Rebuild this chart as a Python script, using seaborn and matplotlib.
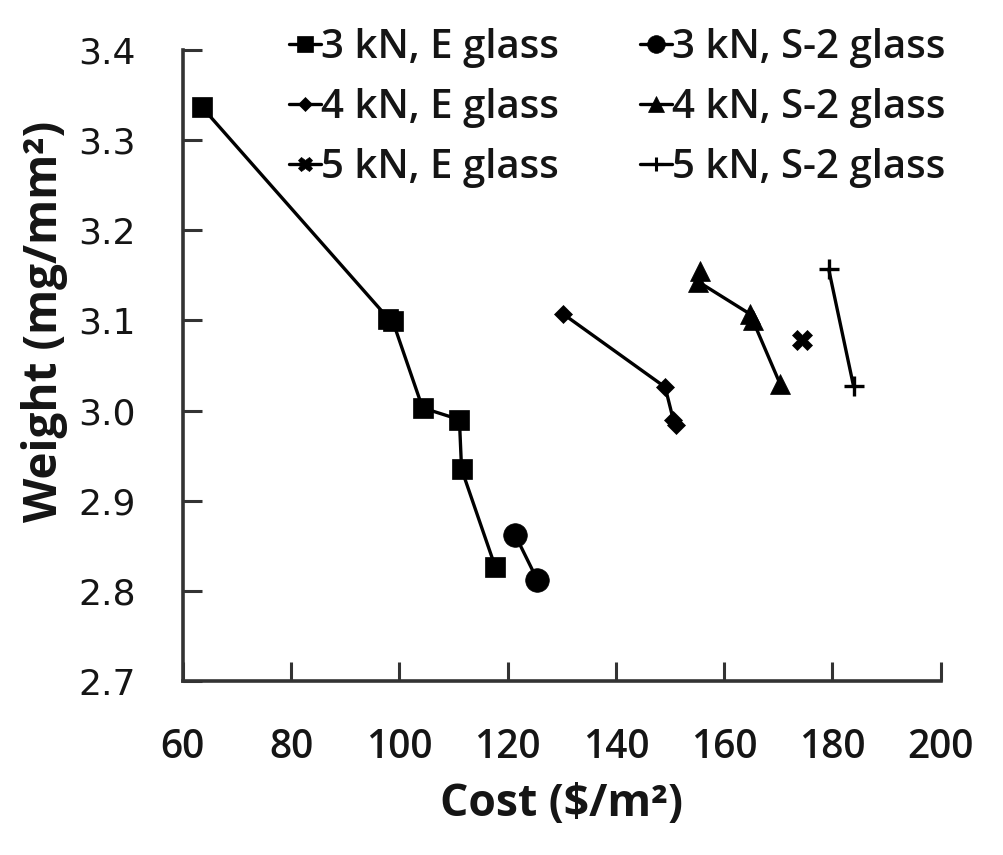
import matplotlib
matplotlib.use("Agg")
import matplotlib.pyplot as plt
import seaborn as sns
import pandas as pd
from matplotlib.lines import Line2D

# ---- data ----
e3_cost = [63.5, 98.0, 98.8, 104.3, 111.1, 111.5, 117.7]
e3_weight = [3.337, 3.102, 3.099, 3.003, 2.990, 2.935, 2.827]

s3_cost = [121.4, 125.5]
s3_weight = [2.862, 2.812]

e4_cost = [130.3, 149.1, 150.6, 151.1]
e4_weight = [3.107, 3.026, 2.990, 2.984]

s4_cost = [155.6, 155.2, 164.8, 165.3, 170.3]
s4_weight = [3.155, 3.143, 3.107, 3.100, 3.030]

e5_cost = [174.4]
e5_weight = [3.078]

s5_cost = [179.3, 183.9]
s5_weight = [3.157, 3.027]

labels = ["3 kN, E glass", "3 kN, S-2 glass", "4 kN, E glass",
          "4 kN, S-2 glass", "5 kN, E glass", "5 kN, S-2 glass"]
xticks = [60, 80, 100, 120, 140, 160, 180, 200]
yticks = [2.7, 2.8, 2.9, 3.0, 3.1, 3.2, 3.3, 3.4]

TXT = '#151515'
sns.set_theme(style="white")
plt.rcParams['font.family'] = ['Open Sans', 'DejaVu Sans']
plt.rcParams['text.color'] = TXT

fig = plt.figure(figsize=(10.04, 8.55), dpi=100)
ax = fig.add_axes([0.182, 0.2035, 0.755, 0.738])

series = [
    (e3_cost, e3_weight, 's', 15, labels[0]),
    (s3_cost, s3_weight, 'o', 17, labels[1]),
    (e4_cost, e4_weight, 'D', 9.5, labels[2]),
    (s4_cost, s4_weight, '^', 15, labels[3]),
    (e5_cost, e5_weight, 'X', 14, labels[4]),
    (s5_cost, s5_weight, '+', 14, labels[5]),
]

for xs, ys, m, ms, lab in series:
    df = pd.DataFrame({"cost": xs, "weight": ys})
    sns.lineplot(data=df, x="cost", y="weight", ax=ax, sort=False,
                 estimator=None, color="black", linewidth=2.4,
                 marker=m, markersize=ms, markeredgewidth=2.4 if m == '+' else 0.5,
                 markeredgecolor="black", markerfacecolor="black", legend=False)

ax.set_xlim(60, 200)
ax.set_ylim(2.7, 3.4)
ax.set_xticks(xticks)
ax.set_yticks(yticks)
ax.set_xticklabels([str(t) for t in xticks], fontsize=28, family=['Open Sans'],
                   fontweight='semibold', color=TXT)
ax.set_yticklabels([f"{t:.1f}" for t in yticks], fontsize=26, family=['DejaVu Sans'], color=TXT)
ax.tick_params(axis='both', direction='in', length=14, width=2.2, color='#333333',
               bottom=True, left=True)
ax.tick_params(axis='y', pad=34)
ax.tick_params(axis='x', pad=34)
for s in ['top', 'right']:
    ax.spines[s].set_visible(False)
for s in ['left', 'bottom']:
    ax.spines[s].set_color('#333333')
    ax.spines[s].set_linewidth(2.6)

ax.set_xlabel("Cost ($/m²)", fontsize=32, fontweight='bold', labelpad=10, color=TXT)
ax.set_ylabel("Weight (mg/mm²)", fontsize=33, fontweight='bold', color=TXT)
ax.yaxis.set_label_coords(-0.152, 0.57)

handles = []
order = [0, 2, 4, 1, 3, 5]
for i in order:
    xs, ys, m, ms, lab = series[i]
    handles.append(Line2D([], [], color='black', linewidth=2.4, marker=m,
                          markersize=ms * 0.75, markeredgewidth=2.2 if m == '+' else 0.5,
                          label=lab))
leg = fig.legend(handles=handles, loc='upper left', bbox_to_anchor=(0.272, 0.986),
                 ncol=2, frameon=False, fontsize=29, handlelength=0.8,
                 handletextpad=0.0, columnspacing=2.0, labelspacing=0.5,
                 borderaxespad=0, labelcolor=TXT)
for t in leg.get_texts():
    t.set_fontweight('semibold')

fig.savefig("out.png", dpi=100)
